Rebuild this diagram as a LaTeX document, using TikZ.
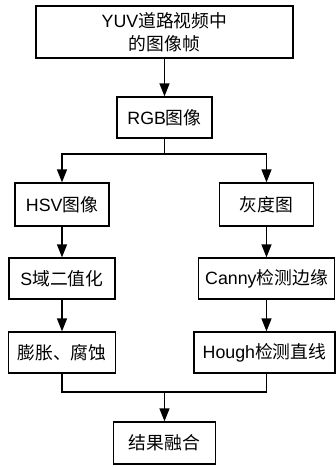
\documentclass[tikz,border=0pt]{standalone}
\usepackage{fontspec}
\setmainfont{Liberation Sans}
\newfontfamily\cjk{Noto Sans CJK SC}
\usetikzlibrary{arrows.meta}
\begin{document}
\begin{tikzpicture}[x=1pt,y=-1pt,
  box/.style={draw,line width=1.2pt,inner sep=0pt,align=center,font=\fontsize{17.8}{23}\selectfont},
  conn/.style={line width=1.2pt},
  arr/.style={conn,-{Triangle[length=13pt,width=10pt]}}]
\useasboundingbox (0,0) rectangle (336,467);
\node[box,minimum width=257pt,minimum height=52pt] (top) at (164.5,32) {YUV{\cjk 道路视频中}\\{\cjk 的图像帧}};
\node[box,minimum width=95pt,minimum height=41pt] (rgb) at (164.5,117.5) {RGB{\cjk 图像}};
\node[box,minimum width=94pt,minimum height=43pt] (hsv) at (62,204.5) {HSV{\cjk 图像}};
\node[box,minimum width=94pt,minimum height=43pt] (gray) at (266.5,204.5) {{\cjk 灰度图}};
\node[box,minimum width=106pt,minimum height=41pt] (sb) at (62,278.5) {S{\cjk 域二值化}};
\node[box,minimum width=136pt,minimum height=41pt] (canny) at (266.5,278.5) {Canny{\cjk 检测边缘}};
\node[box,minimum width=107pt,minimum height=41pt] (peng) at (62,352.5) {{\cjk 膨胀、腐蚀}};
\node[box,minimum width=141pt,minimum height=41pt] (hough) at (264.5,352.5) {Hough{\cjk 检测直线}};
\node[box,minimum width=102pt,minimum height=42pt] (res) at (164.5,443) {{\cjk 结果融合}};
\coordinate (split) at (164.5,154);
\coordinate (join) at (164.5,392);
\draw[arr] (top) -- (rgb);
\draw[conn] (rgb) -- (split);
\draw[arr] (split) -| (hsv.north);
\draw[arr] (split) -| (gray.north);
\draw[arr] (hsv) -- (sb);
\draw[arr] (gray) -- (canny);
\draw[arr] (sb) -- (peng);
\draw[arr] (canny.south) -- (canny.south |- hough.north);
\draw[conn] (peng.south) |- (join);
\draw[conn] (hough.south -| canny.south) |- (join);
\draw[arr] (join) -- (res);
\end{tikzpicture}
\end{document}
